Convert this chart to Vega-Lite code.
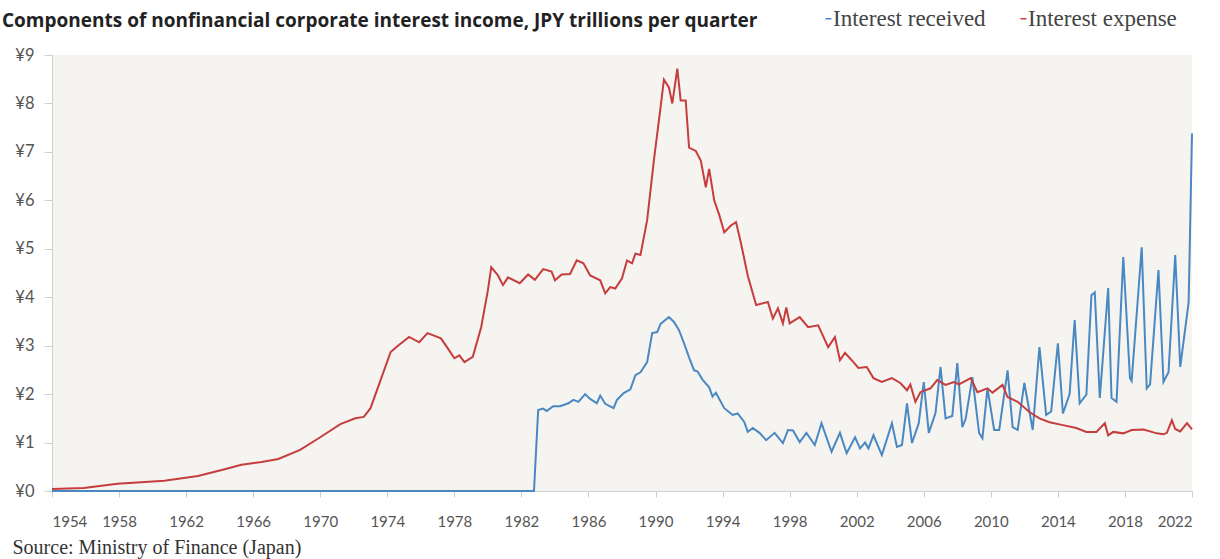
{
  "$schema": "https://vega.github.io/schema/vega-lite/v6.json",
  "width": 1140,
  "height": 436,
  "autosize": {"type": "none"},
  "padding": {"left": 52, "top": 55, "right": 28, "bottom": 68},
  "background": "white",
  "view": {"fill": "#f6f4f0", "stroke": null},
  "title": {
    "text": "Components of nonfinancial corporate interest income, JPY trillions per quarter",
    "anchor": "start",
    "frame": "group",
    "dx": -50,
    "offset": 0,
    "dy": 39,
    "baseline": "alphabetic",
    "font": "Open Sans",
    "fontWeight": "bold",
    "fontSize": 19,
    "color": "#222222"
  },
  "datasets": {
    "received": [
      {"t": 1954.0, "v": 0}, {"t": 1982.75, "v": 0},
      {"t": 1983.0, "v": 1.67}, {"t": 1983.3, "v": 1.7}, {"t": 1983.5, "v": 1.65}, {"t": 1983.9, "v": 1.75},
      {"t": 1984.3, "v": 1.75}, {"t": 1984.8, "v": 1.81}, {"t": 1985.1, "v": 1.88}, {"t": 1985.4, "v": 1.84},
      {"t": 1985.8, "v": 2.0}, {"t": 1986.1, "v": 1.9}, {"t": 1986.5, "v": 1.81}, {"t": 1986.7, "v": 1.97},
      {"t": 1987.0, "v": 1.8}, {"t": 1987.5, "v": 1.71}, {"t": 1987.7, "v": 1.88}, {"t": 1988.1, "v": 2.02},
      {"t": 1988.5, "v": 2.1}, {"t": 1988.8, "v": 2.39}, {"t": 1989.1, "v": 2.45}, {"t": 1989.5, "v": 2.66},
      {"t": 1989.8, "v": 3.26}, {"t": 1990.1, "v": 3.28}, {"t": 1990.3, "v": 3.45}, {"t": 1990.8, "v": 3.59},
      {"t": 1991.1, "v": 3.49}, {"t": 1991.4, "v": 3.32}, {"t": 1991.7, "v": 3.05}, {"t": 1992.0, "v": 2.76},
      {"t": 1992.3, "v": 2.49}, {"t": 1992.5, "v": 2.47}, {"t": 1992.8, "v": 2.3}, {"t": 1993.2, "v": 2.14},
      {"t": 1993.4, "v": 1.95}, {"t": 1993.6, "v": 2.03}, {"t": 1994.1, "v": 1.71}, {"t": 1994.6, "v": 1.57},
      {"t": 1994.9, "v": 1.6}, {"t": 1995.3, "v": 1.42}, {"t": 1995.5, "v": 1.22}, {"t": 1995.8, "v": 1.3},
      {"t": 1996.2, "v": 1.2}, {"t": 1996.6, "v": 1.05}, {"t": 1997.1, "v": 1.2}, {"t": 1997.6, "v": 0.99},
      {"t": 1997.9, "v": 1.26}, {"t": 1998.2, "v": 1.25}, {"t": 1998.6, "v": 1.01}, {"t": 1999.0, "v": 1.2},
      {"t": 1999.5, "v": 0.95}, {"t": 1999.9, "v": 1.4}, {"t": 2000.5, "v": 0.81}, {"t": 2001.0, "v": 1.2},
      {"t": 2001.4, "v": 0.78}, {"t": 2001.9, "v": 1.11}, {"t": 2002.2, "v": 0.88}, {"t": 2002.5, "v": 1.0},
      {"t": 2002.7, "v": 0.88}, {"t": 2003.0, "v": 1.15}, {"t": 2003.5, "v": 0.74}, {"t": 2004.1, "v": 1.4},
      {"t": 2004.4, "v": 0.91}, {"t": 2004.7, "v": 0.95}, {"t": 2005.0, "v": 1.81}, {"t": 2005.3, "v": 0.99},
      {"t": 2005.7, "v": 1.4}, {"t": 2006.0, "v": 2.25}, {"t": 2006.3, "v": 1.2}, {"t": 2006.7, "v": 1.61},
      {"t": 2007.0, "v": 2.56}, {"t": 2007.3, "v": 1.5}, {"t": 2007.7, "v": 1.55}, {"t": 2008.0, "v": 2.64},
      {"t": 2008.3, "v": 1.32}, {"t": 2008.5, "v": 1.49}, {"t": 2008.9, "v": 2.35}, {"t": 2009.3, "v": 1.2},
      {"t": 2009.5, "v": 1.09}, {"t": 2009.8, "v": 2.12}, {"t": 2010.2, "v": 1.26}, {"t": 2010.5, "v": 1.26},
      {"t": 2011.0, "v": 2.49}, {"t": 2011.3, "v": 1.32}, {"t": 2011.6, "v": 1.26}, {"t": 2012.0, "v": 2.23},
      {"t": 2012.5, "v": 1.26}, {"t": 2012.9, "v": 2.97}, {"t": 2013.3, "v": 1.57}, {"t": 2013.6, "v": 1.64},
      {"t": 2014.0, "v": 3.05}, {"t": 2014.3, "v": 1.6}, {"t": 2014.7, "v": 2.0}, {"t": 2015.0, "v": 3.53},
      {"t": 2015.3, "v": 1.81}, {"t": 2015.7, "v": 1.99}, {"t": 2016.0, "v": 4.04}, {"t": 2016.2, "v": 4.1},
      {"t": 2016.5, "v": 1.92}, {"t": 2017.0, "v": 4.19}, {"t": 2017.2, "v": 1.92}, {"t": 2017.5, "v": 1.84},
      {"t": 2017.9, "v": 4.83}, {"t": 2018.3, "v": 2.33}, {"t": 2018.4, "v": 2.27}, {"t": 2019.0, "v": 5.03},
      {"t": 2019.3, "v": 2.12}, {"t": 2019.5, "v": 2.2}, {"t": 2020.0, "v": 4.56}, {"t": 2020.3, "v": 2.25},
      {"t": 2020.6, "v": 2.45}, {"t": 2021.0, "v": 4.87}, {"t": 2021.3, "v": 2.56}, {"t": 2021.8, "v": 3.9},
      {"t": 2022.0, "v": 7.38}
    ],
    "expense": [
      {"t": 1954.0, "v": 0.04}, {"t": 1955.9, "v": 0.06}, {"t": 1957.9, "v": 0.15}, {"t": 1960.7, "v": 0.21},
      {"t": 1962.7, "v": 0.31}, {"t": 1964.3, "v": 0.45}, {"t": 1965.3, "v": 0.54}, {"t": 1966.5, "v": 0.6},
      {"t": 1967.5, "v": 0.66}, {"t": 1968.8, "v": 0.85}, {"t": 1970.0, "v": 1.11}, {"t": 1971.2, "v": 1.38},
      {"t": 1972.1, "v": 1.5}, {"t": 1972.6, "v": 1.53}, {"t": 1973.0, "v": 1.71}, {"t": 1973.6, "v": 2.29},
      {"t": 1974.2, "v": 2.87}, {"t": 1974.6, "v": 2.99}, {"t": 1975.3, "v": 3.18}, {"t": 1975.9, "v": 3.07},
      {"t": 1976.4, "v": 3.26}, {"t": 1977.2, "v": 3.15}, {"t": 1977.6, "v": 2.95}, {"t": 1978.0, "v": 2.74},
      {"t": 1978.3, "v": 2.8}, {"t": 1978.6, "v": 2.66}, {"t": 1979.1, "v": 2.77}, {"t": 1979.6, "v": 3.38},
      {"t": 1980.0, "v": 4.14}, {"t": 1980.2, "v": 4.62}, {"t": 1980.6, "v": 4.45}, {"t": 1980.9, "v": 4.25},
      {"t": 1981.2, "v": 4.41}, {"t": 1981.9, "v": 4.29}, {"t": 1982.4, "v": 4.47}, {"t": 1982.8, "v": 4.36},
      {"t": 1983.3, "v": 4.58}, {"t": 1983.8, "v": 4.53}, {"t": 1984.0, "v": 4.35}, {"t": 1984.4, "v": 4.47},
      {"t": 1984.9, "v": 4.48}, {"t": 1985.3, "v": 4.76}, {"t": 1985.7, "v": 4.7}, {"t": 1986.1, "v": 4.45},
      {"t": 1986.7, "v": 4.35}, {"t": 1987.0, "v": 4.08}, {"t": 1987.3, "v": 4.21}, {"t": 1987.6, "v": 4.18},
      {"t": 1988.0, "v": 4.39}, {"t": 1988.3, "v": 4.76}, {"t": 1988.6, "v": 4.7}, {"t": 1988.8, "v": 4.9},
      {"t": 1989.1, "v": 4.87}, {"t": 1989.5, "v": 5.59}, {"t": 1989.9, "v": 6.82}, {"t": 1990.3, "v": 7.92},
      {"t": 1990.5, "v": 8.49}, {"t": 1990.8, "v": 8.33}, {"t": 1991.0, "v": 8.0}, {"t": 1991.3, "v": 8.72},
      {"t": 1991.5, "v": 8.06}, {"t": 1991.8, "v": 8.06}, {"t": 1992.0, "v": 7.09}, {"t": 1992.4, "v": 7.02},
      {"t": 1992.7, "v": 6.82}, {"t": 1993.0, "v": 6.27}, {"t": 1993.2, "v": 6.65}, {"t": 1993.5, "v": 6.0},
      {"t": 1993.8, "v": 5.7}, {"t": 1994.1, "v": 5.34}, {"t": 1994.5, "v": 5.48}, {"t": 1994.8, "v": 5.55},
      {"t": 1995.1, "v": 5.11}, {"t": 1995.5, "v": 4.45}, {"t": 1996.0, "v": 3.84}, {"t": 1996.7, "v": 3.9},
      {"t": 1997.0, "v": 3.56}, {"t": 1997.3, "v": 3.77}, {"t": 1997.6, "v": 3.46}, {"t": 1997.8, "v": 3.79},
      {"t": 1998.0, "v": 3.46}, {"t": 1998.6, "v": 3.59}, {"t": 1999.1, "v": 3.38}, {"t": 1999.7, "v": 3.42},
      {"t": 2000.3, "v": 2.97}, {"t": 2000.7, "v": 3.18}, {"t": 2001.0, "v": 2.7}, {"t": 2001.3, "v": 2.85},
      {"t": 2001.7, "v": 2.7}, {"t": 2002.1, "v": 2.54}, {"t": 2002.6, "v": 2.56}, {"t": 2003.0, "v": 2.33},
      {"t": 2003.5, "v": 2.25}, {"t": 2004.1, "v": 2.33}, {"t": 2004.6, "v": 2.23}, {"t": 2005.0, "v": 2.08},
      {"t": 2005.2, "v": 2.2}, {"t": 2005.5, "v": 1.84}, {"t": 2005.8, "v": 2.04}, {"t": 2006.4, "v": 2.12},
      {"t": 2006.8, "v": 2.29}, {"t": 2007.3, "v": 2.19}, {"t": 2007.8, "v": 2.25}, {"t": 2008.1, "v": 2.2},
      {"t": 2008.8, "v": 2.33}, {"t": 2009.2, "v": 2.04}, {"t": 2009.8, "v": 2.12}, {"t": 2010.1, "v": 2.03},
      {"t": 2010.7, "v": 2.19}, {"t": 2011.0, "v": 1.94}, {"t": 2011.6, "v": 1.84}, {"t": 2012.3, "v": 1.63},
      {"t": 2012.9, "v": 1.5}, {"t": 2013.5, "v": 1.42}, {"t": 2014.3, "v": 1.36}, {"t": 2015.1, "v": 1.3},
      {"t": 2015.7, "v": 1.22}, {"t": 2016.3, "v": 1.22}, {"t": 2016.8, "v": 1.4}, {"t": 2017.0, "v": 1.15},
      {"t": 2017.3, "v": 1.22}, {"t": 2017.9, "v": 1.19}, {"t": 2018.4, "v": 1.26}, {"t": 2019.1, "v": 1.27},
      {"t": 2019.6, "v": 1.22}, {"t": 2019.9, "v": 1.19}, {"t": 2020.3, "v": 1.17}, {"t": 2020.5, "v": 1.2},
      {"t": 2020.8, "v": 1.46}, {"t": 2021.0, "v": 1.28}, {"t": 2021.3, "v": 1.23}, {"t": 2021.7, "v": 1.4},
      {"t": 2022.0, "v": 1.27}
    ]
  },
  "encoding": {
    "x": {
      "field": "t",
      "type": "quantitative",
      "scale": {"domain": [1954, 2022], "nice": false, "zero": false},
      "axis": {
        "values": [1954, 1958, 1962, 1966, 1970, 1974, 1978, 1982, 1986, 1990, 1994, 1998, 2002, 2006, 2010, 2014, 2018, 2022],
        "format": "d",
        "grid": false,
        "domainColor": "#cfcfcf",
        "tickColor": "#cfcfcf",
        "tickSize": 6,
        "labelPadding": 17,
        "labelFont": "Lato",
        "labelFontSize": 15,
        "labelColor": "#555555",
        "title": "Source: Ministry of Finance (Japan)",
        "titleFont": "Liberation Serif",
        "titleFontSize": 20,
        "titleFontWeight": "normal",
        "titleColor": "#333333",
        "titleAnchor": "start",
        "titleAlign": "left",
        "titleBaseline": "alphabetic",
        "titleX": -40,
        "titleY": 62
      }
    },
    "y": {
      "field": "v",
      "type": "quantitative",
      "scale": {"domain": [0, 9], "nice": false},
      "axis": {
        "values": [0, 1, 2, 3, 4, 5, 6, 7, 8, 9],
        "labelExpr": "'¥' + datum.value",
        "grid": false,
        "domainColor": "#cfcfcf",
        "tickColor": "#cfcfcf",
        "tickSize": 8,
        "labelPadding": 10,
        "labelFont": "Lato",
        "labelFontSize": 16.5,
        "labelColor": "#555555",
        "title": null
      }
    }
  },
  "layer": [
    {
      "data": {"name": "received"},
      "mark": {"type": "line", "strokeWidth": 2, "interpolate": "linear"},
      "encoding": {
        "color": {
          "datum": "Interest received",
          "scale": {"domain": ["Interest received", "Interest expense"], "range": ["#4a88c2", "#c63d3e"]},
          "legend": {
            "title": null,
            "orient": "none",
            "legendX": 765,
            "legendY": -48,
            "direction": "horizontal",
            "symbolType": "stroke",
            "symbolSize": 36,
            "symbolStrokeWidth": 1.5,
            "labelOffset": -7,
            "columnPadding": 26,
            "labelFont": "Liberation Serif",
            "labelFontSize": 23,
            "labelColor": "#444444",
            "labelLimit": 300
          }
        }
      }
    },
    {
      "data": {"name": "expense"},
      "mark": {"type": "line", "strokeWidth": 2, "interpolate": "linear"},
      "encoding": {
        "color": {"datum": "Interest expense"}
      }
    }
  ]
}
